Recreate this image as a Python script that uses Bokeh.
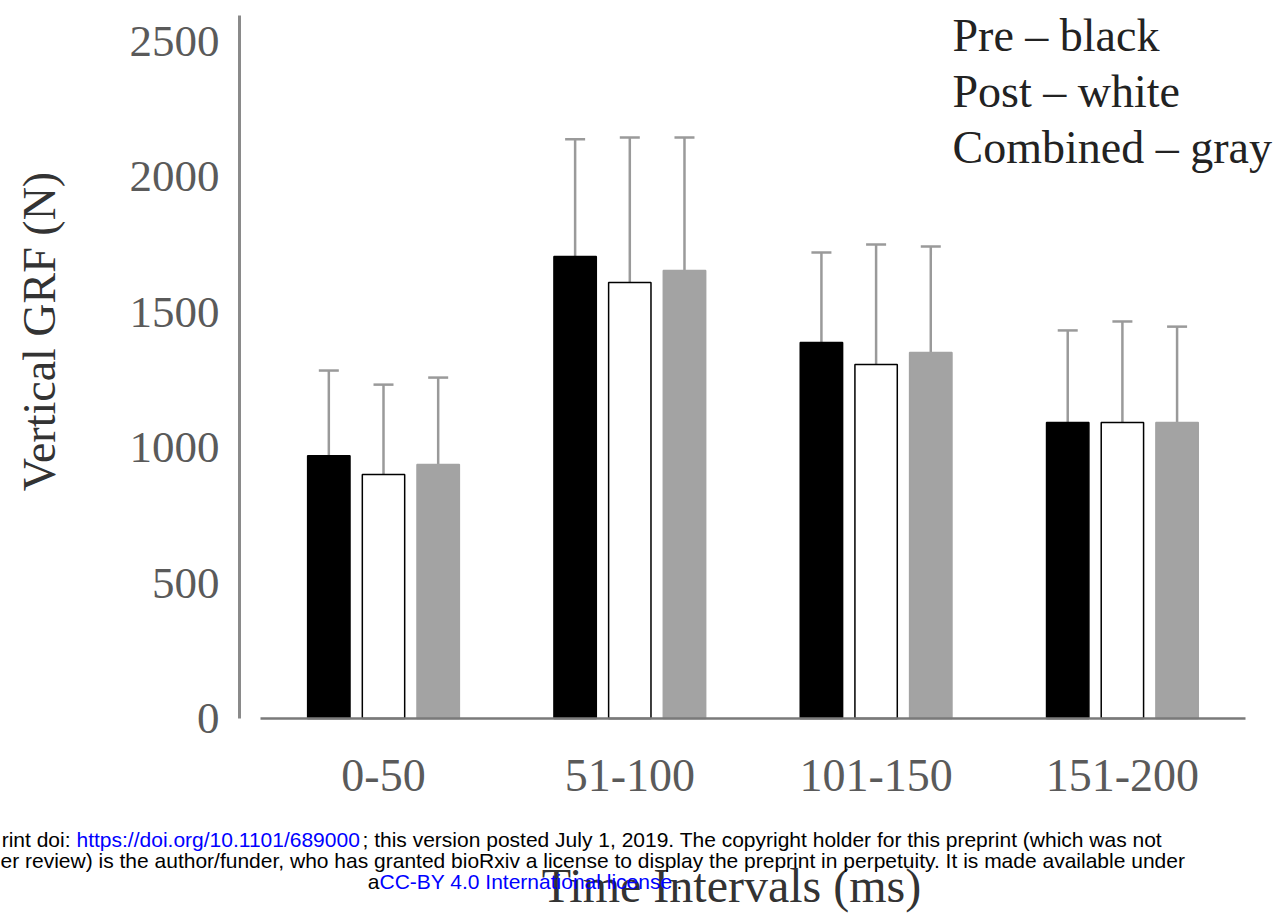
import math
from bokeh.plotting import figure
from bokeh.models import (Range1d, FixedTicker, Label, Whisker, TeeHead, ColumnDataSource)
from bokeh.embed import file_html
from bokeh.resources import INLINE

# ---- data ----
categories = ["0-50", "51-100", "101-150", "151-200"]
pre_mean = [970, 1705, 1387, 1092]
pre_sd = [314, 432, 333, 340]
post_mean = [900, 1609, 1306, 1092]
post_sd = [332, 535, 443, 373]
comb_mean = [937, 1653, 1351, 1092]
comb_sd = [321, 491, 391, 354]
y_ticks = [0, 500, 1000, 1500, 2000, 2500]
legend_lines = ["Pre \u2013 black", "Post \u2013 white", "Combined \u2013 gray"]

# ---- layout constants (canvas pixels) ----
W, H = 1280, 915
AX_X, BASE_Y = 239, 718                        # y-axis x / baseline y
G0, GS = 383.0, 246.3                          # group center / spacing px
PPU = 677.5 / 2500.0                           # px per unit (y)

def dx(px):
    return (px - G0) / GS

def dy(py):
    return (BASE_Y - py) / PPU

p = figure(width=W, height=H, output_backend="svg", toolbar_location=None,
           x_range=Range1d(dx(0), dx(W)), y_range=Range1d(dy(H), dy(0)),
           min_border_left=0, min_border_right=0, min_border_top=0, min_border_bottom=0)
p.outline_line_color = None
p.xgrid.visible = False
p.ygrid.visible = False
p.background_fill_color = "white"
p.border_fill_color = "white"

idx = list(range(len(categories)))
off = 0.222
bw = 0.172
series = [
    (pre_mean, pre_sd, -off, "#000000", "#000000"),
    (post_mean, post_sd, 0.0, "#ffffff", "#000000"),
    (comb_mean, comb_sd, off, "#a3a3a3", "#a3a3a3"),
]
for mean, sd, o, fill, line in series:
    xs = [i + o for i in idx]
    src = ColumnDataSource(dict(x=xs, top=mean, upper=[m + s for m, s in zip(mean, sd)]))
    p.vbar(x="x", top="top", bottom=0, width=bw, source=src,
           fill_color=fill, line_color=line, line_width=1.5)
    w = Whisker(base="x", upper="upper", lower="top", source=src,
                line_color="#9a9a9a", line_width=2.5,
                upper_head=TeeHead(size=20, line_color="#9a9a9a", line_width=2.5),
                lower_head=None, level="underlay")
    p.add_layout(w)

# axes (placed inside the frame)
xa = p.xaxis[0]
xa.fixed_location = 0
xa.ticker = FixedTicker(ticks=idx)
xa.major_label_overrides = {i: c for i, c in zip(idx, categories)}
xa.bounds = (-0.5, 3.5)
xa.axis_line_color = "#7a7a7a"
xa.axis_line_width = 2.5
xa.major_tick_line_color = None
xa.minor_tick_line_color = None
xa.major_label_standoff = 35
xa.major_label_text_font = "Liberation Serif"
xa.major_label_text_font_size = "46px"
xa.major_label_text_color = "#5a5a5a"

ya = p.yaxis[0]
ya.fixed_location = dx(AX_X)
ya.ticker = FixedTicker(ticks=y_ticks)
ya.bounds = (0, 2594)
ya.axis_line_color = "#8a8a8a"
ya.axis_line_width = 3
ya.major_tick_line_color = None
ya.minor_tick_line_color = None
ya.major_label_standoff = 14
ya.major_label_text_font = "Liberation Serif"
ya.major_label_text_font_size = "45px"
ya.major_label_text_color = "#5a5a5a"

# axis titles
p.add_layout(Label(x=dx(39), y=dy(331), text="Vertical GRF (N)", angle=math.pi / 2,
                   text_align="center", text_baseline="middle",
                   text_font="Liberation Serif", text_font_size="46px", text_color="#333333"))
p.add_layout(Label(x=dx(731), y=dy(885), text="Time Intervals (ms)",
                   text_align="center", text_baseline="middle",
                   text_font="Liberation Serif", text_font_size="48px", text_color="#333333"))

# legend text
for t, py in zip(legend_lines, [35, 91, 147]):
    p.add_layout(Label(x=dx(952), y=dy(py), text=t, text_align="left", text_baseline="middle",
                       text_font="Liberation Serif", text_font_size="46px", text_color="#222222"))

# footer (bioRxiv stamp)
FS = "21px"
def foot(px, py, t, col, align="left"):
    p.add_layout(Label(x=dx(px), y=dy(py), text=t, text_align=align, text_baseline="alphabetic",
                       text_font="Liberation Sans", text_font_size=FS, text_color=col))

BLUE = "#0000ff"
foot(70, 839, "rint doi:", "#000000", "right")
foot(76, 839, "https://doi.org/10.1101/689000", BLUE)
foot(362, 839, "; this version posted July 1, 2019. The copyright holder for this preprint (which was not", "#000000")
foot(0, 860, "er review) is the author/funder, who has granted bioRxiv a license to display the preprint in perpetuity. It is made available under", "#000000")
foot(379, 881, "a", "#000000", "right")
foot(379, 881, "CC-BY 4.0 International license", BLUE)
foot(676, 881, ".", "#000000")

open("out.html", "w").write(file_html(p, INLINE))
